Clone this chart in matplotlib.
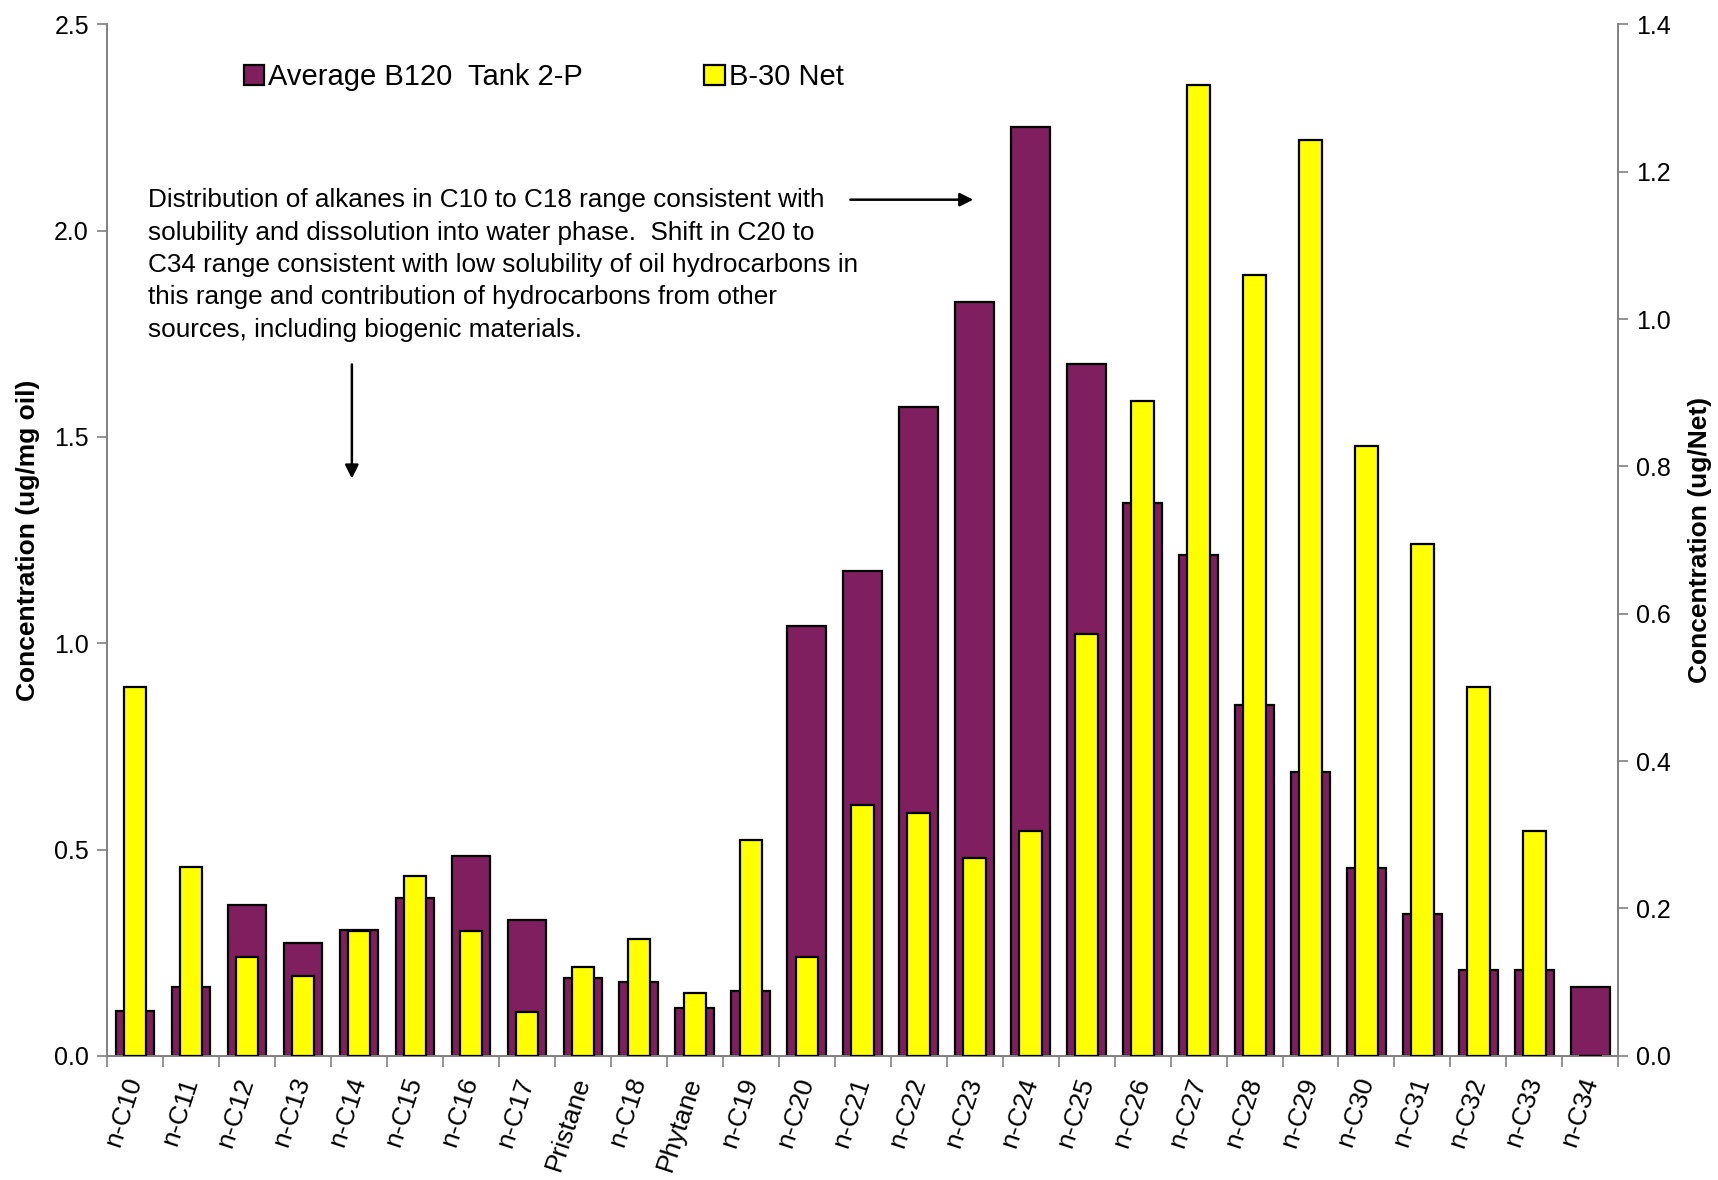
import matplotlib
matplotlib.use("Agg")
import matplotlib.pyplot as plt
import numpy as np
from matplotlib.patches import Patch

plt.rcParams['font.family'] = ['Liberation Sans', 'DejaVu Sans']

categories = ["n-C10", "n-C11", "n-C12", "n-C13", "n-C14", "n-C15", "n-C16", "n-C17",
              "Pristane", "n-C18", "Phytane", "n-C19", "n-C20", "n-C21", "n-C22", "n-C23",
              "n-C24", "n-C25", "n-C26", "n-C27", "n-C28", "n-C29", "n-C30", "n-C31",
              "n-C32", "n-C33", "n-C34"]
avg_b120 = [0.109, 0.167, 0.366, 0.274, 0.304, 0.383, 0.484, 0.330,
            0.188, 0.178, 0.116, 0.156, 1.042, 1.174, 1.572, 1.827,
            2.251, 1.676, 1.341, 1.214, 0.851, 0.688, 0.455, 0.345,
            0.209, 0.209, 0.167]
b30_net = [0.500, 0.256, 0.134, 0.109, 0.170, 0.244, 0.170, 0.060,
           0.121, 0.158, 0.085, 0.293, 0.134, 0.341, 0.330, 0.268,
           0.305, 0.573, 0.889, 1.317, 1.060, 1.243, 0.828, 0.695,
           0.500, 0.305, 0.0]

purple = "#7F1F5F"
yellow = "#FFFF00"
gray = "#808080"

fig = plt.figure(figsize=(17.18, 11.80), dpi=100)
ax = fig.add_axes([0.0623, 0.1052, 0.942 - 0.0623, 0.9794 - 0.1052])
ax2 = ax.twinx()

x = np.arange(len(categories))
ax.bar(x, avg_b120, width=0.69, color=purple, edgecolor="black", linewidth=1.6, zorder=2)
ax2.bar(x, b30_net, width=0.4, color=yellow, edgecolor="black", linewidth=1.6, zorder=3)

ax.set_xlim(-0.5, len(categories) - 0.5)
ax.set_ylim(0, 2.5)
ax2.set_ylim(0, 1.4)
ax.set_yticks(np.arange(0, 2.51, 0.5))
ax.set_yticklabels([f"{v:.1f}" for v in np.arange(0, 2.51, 0.5)])
ax2.set_yticks(np.arange(0, 1.41, 0.2))
ax2.set_yticklabels([f"{v:.1f}" for v in np.arange(0, 1.41, 0.2)])

ax.set_xticks(x)
ax.set_xticklabels(categories, rotation=72, ha="right", va="center",
                   rotation_mode="anchor", fontsize=19)
ax.tick_params(axis="x", which="major", length=0, pad=16)
ax.set_xticks(np.arange(-0.5, len(categories), 1.0), minor=True)
ax.tick_params(axis="x", which="minor", length=8, color=gray, width=1.2)

ax.tick_params(axis="y", labelsize=18, length=7, color=gray, width=1.2, pad=6)
ax2.tick_params(axis="y", labelsize=18, length=7, color=gray, width=1.2, pad=6)

for a in (ax, ax2):
    a.spines["top"].set_visible(False)
    for s in ("left", "right", "bottom"):
        a.spines[s].set_color(gray)
        a.spines[s].set_linewidth(1.2)

ax.set_ylabel("Concentration (ug/mg oil)", fontsize=19, fontweight="bold", labelpad=10)
ax2.set_ylabel("Concentration (ug/Net)", fontsize=19, fontweight="bold", labelpad=12, rotation=90)

handles = [Patch(facecolor=purple, edgecolor="black", linewidth=1.6),
           Patch(facecolor=yellow, edgecolor="black", linewidth=1.6)]
ax2.legend(handles, ["Average B120  Tank 2-P", "B-30 Net"], loc="center left",
           bbox_to_anchor=(0.073, 0.949), ncol=2, frameon=False, fontsize=21,
           handlelength=0.7, handleheight=0.7, handletextpad=0.15, columnspacing=4.15)

note = ("Distribution of alkanes in C10 to C18 range consistent with\n"
        "solubility and dissolution into water phase.  Shift in C20 to\n"
        "C34 range consistent with low solubility of oil hydrocarbons in\n"
        "this range and contribution of hydrocarbons from other\n"
        "sources, including biogenic materials.")
ax2.text(0.027, 0.841, note, transform=ax2.transAxes, fontsize=18.8, va="top", ha="left",
         linespacing=1.44)
ax2.annotate("", xy=(0.575, 0.830), xytext=(0.490, 0.830), xycoords="axes fraction",
             arrowprops=dict(arrowstyle="-|>", color="black", lw=1.8, mutation_scale=20))
ax2.annotate("", xy=(0.162, 0.557), xytext=(0.162, 0.673), xycoords="axes fraction",
             arrowprops=dict(arrowstyle="-|>", color="black", lw=1.8, mutation_scale=20))

fig.savefig("out.png", dpi=100)
